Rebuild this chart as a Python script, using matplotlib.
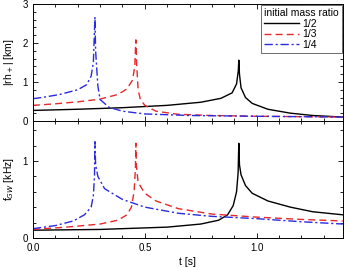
import matplotlib
matplotlib.use("Agg")
import matplotlib.pyplot as plt
from matplotlib.ticker import MultipleLocator

plt.rcParams['font.family'] = ['Liberation Sans', 'DejaVu Sans']

# 上段: |rh+| [km]
t_h_12 = [0.0, 0.2, 0.4, 0.6, 0.75, 0.84, 0.89, 0.91, 0.918, 0.92, 0.923, 0.93, 0.95, 0.98, 1.05, 1.15, 1.25, 1.385]
h_12 = [0.27, 0.30, 0.34, 0.40, 0.48, 0.58, 0.72, 0.95, 1.3, 1.56, 1.2, 0.85, 0.6, 0.45, 0.30, 0.20, 0.14, 0.10]
t_h_13 = [0.0, 0.1, 0.2, 0.3, 0.38, 0.42, 0.445, 0.455, 0.46, 0.463, 0.47, 0.48, 0.5, 0.55, 0.65, 0.8, 1.0, 1.2, 1.385]
h_13 = [0.40, 0.44, 0.49, 0.56, 0.68, 0.82, 1.05, 1.4, 2.08, 1.5, 0.8, 0.55, 0.40, 0.25, 0.17, 0.14, 0.12, 0.11, 0.10]
t_h_14 = [0.0, 0.06, 0.12, 0.2, 0.24, 0.26, 0.27, 0.277, 0.28, 0.29, 0.30, 0.34, 0.4, 0.5, 0.7, 1.0, 1.385]
h_14 = [0.57, 0.62, 0.68, 0.80, 0.93, 1.15, 1.5, 2.67, 1.8, 0.9, 0.55, 0.35, 0.25, 0.18, 0.14, 0.12, 0.10]

# 下段: f_GW [kHz]
t_f_12 = [0.0, 0.3, 0.6, 0.75, 0.83, 0.87, 0.895, 0.91, 0.917, 0.92, 0.923, 0.93, 0.95, 0.98, 1.05, 1.15, 1.25, 1.385]
f_12 = [0.10, 0.11, 0.14, 0.18, 0.23, 0.30, 0.42, 0.6, 0.85, 1.23, 0.95, 0.82, 0.68, 0.58, 0.48, 0.40, 0.34, 0.30]
t_f_13 = [0.0, 0.15, 0.3, 0.38, 0.42, 0.44, 0.452, 0.458, 0.46, 0.462, 0.47, 0.5, 0.55, 0.65, 0.8, 1.0, 1.2, 1.385]
f_13 = [0.11, 0.14, 0.18, 0.23, 0.30, 0.40, 0.6, 0.9, 1.23, 0.95, 0.72, 0.58, 0.48, 0.38, 0.31, 0.27, 0.24, 0.22]
t_f_14 = [0.0, 0.1, 0.18, 0.23, 0.26, 0.27, 0.275, 0.277, 0.28, 0.29, 0.32, 0.4, 0.5, 0.65, 0.8, 1.0, 1.2, 1.385]
f_14 = [0.12, 0.16, 0.22, 0.30, 0.40, 0.55, 0.8, 1.25, 0.95, 0.80, 0.64, 0.50, 0.40, 0.32, 0.28, 0.25, 0.21, 0.18]

labels = ['1/2', '1/3', '1/4']
colors = ['black', '#e8282a', '#2a2ae0']
styles = ['-', (0, (5, 3)), (0, (6, 2, 1.5, 2))]

fig, (ax1, ax2) = plt.subplots(2, 1, figsize=(3.47, 2.67), dpi=100, sharex=True)
fig.subplots_adjust(left=0.095, right=0.988, top=0.985, bottom=0.109, hspace=0)

for t, v, lab, c, ls in zip([t_h_12, t_h_13, t_h_14], [h_12, h_13, h_14], labels, colors, styles):
    ax1.plot(t, v, color=c, linestyle=ls, lw=1.0, label=lab)
for t, v, c, ls in zip([t_f_12, t_f_13, t_f_14], [f_12, f_13, f_14], colors, styles):
    ax2.plot(t, v, color=c, linestyle=ls, lw=1.0)

ax1.set_ylim(0, 3)
ax2.set_ylim(0, 1.52)
ax2.set_xlim(0, 1.385)

ax1.yaxis.set_major_locator(MultipleLocator(1))
ax1.yaxis.set_minor_locator(MultipleLocator(0.2))
ax2.yaxis.set_major_locator(MultipleLocator(1))
ax2.yaxis.set_minor_locator(MultipleLocator(0.2))
ax2.xaxis.set_major_locator(MultipleLocator(0.5))
ax2.xaxis.set_minor_locator(MultipleLocator(0.1))
ax2.xaxis.set_major_formatter(plt.FormatStrFormatter('%.1f'))

for ax in (ax1, ax2):
    ax.tick_params(which='both', direction='in', top=True, right=True, labelsize=7, width=0.6)
    ax.tick_params(which='major', length=3.5)
    ax.tick_params(which='minor', length=2)
    for s in ax.spines.values():
        s.set_linewidth(0.7)

ax1.set_ylabel('|rh$_+$| [km]', fontsize=7.5, labelpad=5)
ax2.set_ylabel('f$_{GW}$ [kHz]', fontsize=7.5, labelpad=5)
ax2.set_xlabel('t [s]', fontsize=7.5, labelpad=3)

leg = ax1.legend(title='initial mass ratio', loc='upper right', fontsize=7.5, title_fontsize=7.5,
                 fancybox=False, edgecolor='#555555', framealpha=1, handlelength=3.4,
                 borderaxespad=0.1, labelspacing=0.05, borderpad=0.3, handletextpad=0.3)
leg.get_frame().set_linewidth(0.6)
leg._legend_box.align = 'left'

fig.savefig('out.png', dpi=100)
